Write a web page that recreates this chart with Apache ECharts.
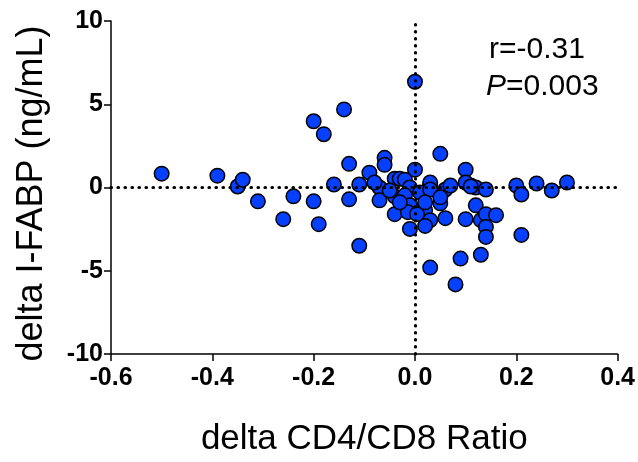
<!DOCTYPE html>
<html>
<head>
<meta charset="utf-8">
<script src="https://cdn.jsdelivr.net/npm/echarts@6/dist/echarts.min.js"></script>
<style>
  html, body { margin: 0; padding: 0; background: #fff; }
  #chart { width: 638px; height: 462px; }
</style>
</head>
<body>
<div id="chart"></div>
<script>
// delta CD4/CD8 ratio (x) and delta I-FABP (y)
var ratioDelta = [
  -0.50, -0.39, -0.35, -0.34, -0.31, -0.26, -0.24, -0.20, -0.19, -0.16,
  -0.20, -0.18, -0.14, 0.00, 0.05, -0.13, -0.06, -0.06, 0.00, -0.11,
  -0.09, -0.13, -0.07, 0.10, -0.04, -0.03, -0.02, -0.01, 0.03, 0.06,
  0.07, 0.11, 0.12, 0.14, -0.07, -0.04, -0.04, -0.01, 0.00, 0.02,
  0.03, 0.02, -0.01, 0.06, 0.05, 0.10, 0.12, 0.13, 0.14, 0.16,
  0.14, 0.14, -0.11, 0.03, 0.09, 0.13, 0.08, 0.01, 0.20, 0.21,
  0.24, 0.27, 0.30, 0.21, -0.08, -0.05, -0.02, -0.01, -0.014, 0.004,
  0.03, 0.03, 0.10, 0.11, 0.05, -0.03, 0.02
];
var fabpDelta = [
  0.83, 0.71, 0.06, 0.47, -0.83, -1.90, -0.53, -0.83, -2.20, 0.18,
  3.98, 3.20, 4.69, 6.35, 2.02, 1.42, 1.78, 1.36, 1.07, 0.18,
  0.89, -0.71, 0.00, 1.07, 0.53, 0.53, 0.47, 0.00, 0.18, -0.12,
  0.12, 0.12, 0.00, -0.12, -0.77, -0.53, -1.60, -1.31, -1.42, -1.36,
  -1.96, -2.31, -2.49, -1.84, -0.95, -1.90, -1.07, -1.96, -1.60, -1.66,
  -2.37, -2.97, -3.50, -4.81, -4.27, -4.04, -5.82, -0.30, 0.12, -0.42,
  0.24, -0.18, 0.30, -2.85, 0.30, -0.18, -0.47, -1.07, -1.48, -1.60,
  0.30, -0.12, 0.30, 0.06, -0.59, -0.89, -0.89
];
var xTicks = [-0.6, 0.4, 0.2];   // min, max, step
var yTicks = [-10, 10, 5];
var statsText = ['r=-0.31', '0.003'];

var points = [];
for (var i = 0; i < ratioDelta.length; i++) {
  points.push([ratioDelta[i], fabpDelta[i]]);
}

var chart = echarts.init(document.getElementById('chart'));
var font = '"Liberation Sans", Arial, sans-serif';

var option = {
  animation: false,
  backgroundColor: '#fff',
  grid: { left: 111, right: 20, top: 21, bottom: 104 },
  xAxis: {
    type: 'value',
    min: xTicks[0], max: xTicks[1], interval: xTicks[2],
    name: 'delta CD4/CD8 Ratio',
    nameLocation: 'middle',
    nameGap: 68,
    nameTextStyle: { fontFamily: font, fontSize: 35, color: '#000' },
    axisLine: { onZero: false, lineStyle: { color: '#000', width: 1.5 } },
    axisTick: { length: 7, lineStyle: { color: '#000', width: 1.5 } },
    axisLabel: {
      margin: 12, fontFamily: font, fontSize: 25, fontWeight: 'bold', color: '#000',
      formatter: function (v) { return v.toFixed(1); }
    },
    splitLine: { show: false }
  },
  yAxis: {
    type: 'value',
    min: yTicks[0], max: yTicks[1], interval: yTicks[2],
    name: 'delta I-FABP (ng/mL)',
    nameLocation: 'middle',
    nameGap: 61,
    nameTextStyle: { fontFamily: font, fontSize: 36, color: '#000', padding: [0, 12, 0, 0] },
    axisLine: { onZero: false, lineStyle: { color: '#000', width: 1.5 } },
    axisTick: { length: 7, lineStyle: { color: '#000', width: 1.5 } },
    axisLabel: {
      margin: 8, fontFamily: font, fontSize: 25, fontWeight: 'bold', color: '#000'
    },
    splitLine: { show: false }
  },
  series: [
    {
      type: 'line',
      data: [],
      z: 1,
      markLine: {
        silent: true,
        symbol: 'none',
        label: { show: false },
        lineStyle: { color: '#000', width: 3.2, type: [0.5, 6.5], cap: 'round' },
        data: [{ xAxis: 0 }, { yAxis: 0 }]
      }
    },
    {
      type: 'scatter',
      data: points,
      z: 3,
      symbol: 'circle',
      symbolSize: 14.5,
      itemStyle: { color: '#0540ff', borderColor: '#000', borderWidth: 1.5, opacity: 1 }
    }
  ],
  graphic: [
    {
      type: 'text', left: 489, top: 35,
      style: { text: statsText[0], font: '30px ' + font, fill: '#000' }
    },
    {
      type: 'text', left: 486, top: 72,
      style: {
        text: '{i|P}=' + statsText[1],
        font: '30px ' + font, fill: '#000',
        rich: { i: { fontStyle: 'italic', fontSize: 30, fontFamily: font } }
      }
    }
  ]
};

chart.setOption(option);
window.addEventListener('resize', function () {
  chart.resize();
});
</script>
</body>
</html>
